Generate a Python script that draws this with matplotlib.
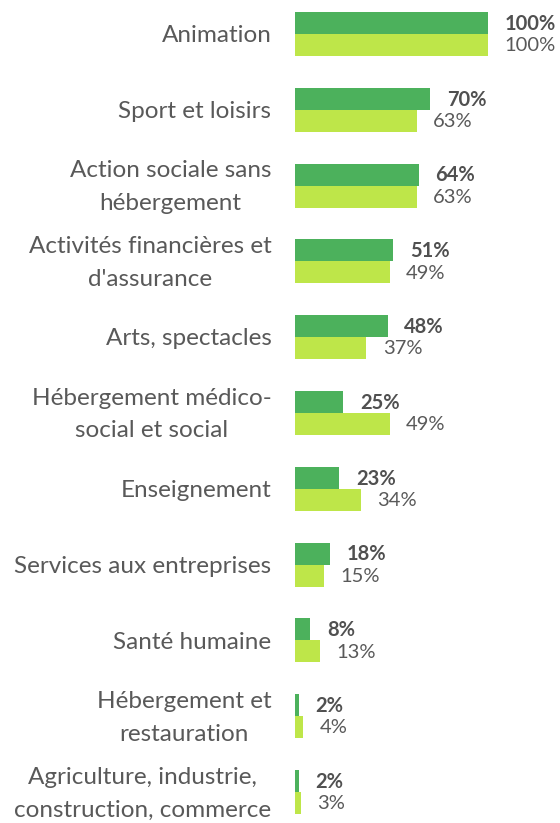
import matplotlib
matplotlib.use("Agg")
import matplotlib.pyplot as plt
import numpy as np

categories = [
    "Animation",
    "Sport et loisirs",
    "Action sociale sans\nhébergement",
    "Activités financières et\nd'assurance",
    "Arts, spectacles",
    "Hébergement médico-\nsocial et social",
    "Enseignement",
    "Services aux entreprises",
    "Santé humaine",
    "Hébergement et\nrestauration",
    "Agriculture, industrie,\nconstruction, commerce",
]
series_dark = [100, 70, 64, 51, 48, 25, 23, 18, 8, 2, 2]
series_light = [100, 63, 63, 49, 37, 49, 34, 15, 13, 4, 3]

W, H = 560, 823
fig = plt.figure(figsize=(W / 100, H / 100), dpi=100)
ax = fig.add_axes([295 / W, 0, 193 / W, 1])

y = np.arange(len(categories))
bh = 0.29
dark = "#4CB15C"
light = "#BEE649"
ax.barh(y - bh / 2, series_dark, height=bh, color=dark, edgecolor="none")
ax.barh(y + bh / 2, series_light, height=bh, color=light, edgecolor="none")

ax.set_xlim(0, 100)
ax.set_ylim((823 - 34) / 75.8, -34 / 75.8)
ax.axis("off")

font = "Lato"
for i, (d, l) in enumerate(zip(series_dark, series_light)):
    ax.annotate(f"{d}%", (d, i - bh / 2), xytext=(12, -0.5), textcoords="offset points",
                ha="left", va="center", fontsize=14.5, fontweight="bold",
                color="#505050", family=font, annotation_clip=False)
    ax.annotate(f"{l}%", (l, i + bh / 2), xytext=(12, -0.5), textcoords="offset points",
                ha="left", va="center", fontsize=14.5, color="#595959",
                family=font, annotation_clip=False)
    ax.annotate(categories[i], (0, i), xytext=(-17, -1.2), textcoords="offset points",
                ha="right", va="center", multialignment="center", fontsize=17.5,
                color="#595959", family=font, linespacing=1.68,
                annotation_clip=False)

fig.savefig("out.png", dpi=100)
